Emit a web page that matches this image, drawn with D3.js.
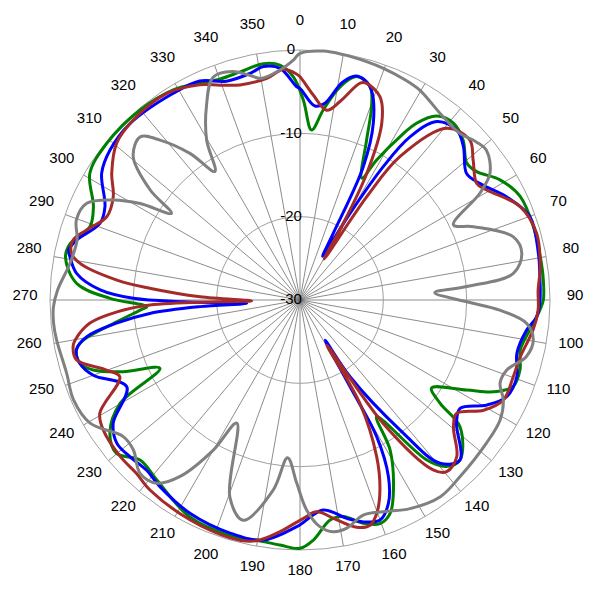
<!DOCTYPE html>
<html><head><meta charset="utf-8">
<script src="https://cdn.jsdelivr.net/npm/d3@7"></script>
<style>body{margin:0;background:#fff}svg{display:block}</style>
</head><body><svg id="c" width="600" height="600"></svg>
<script>
// Tick labels
const angleTicks = d3.range(0, 360, 10);
const ringTicks = [-30, -20, -10, 0];

// Series: [angle in degrees, level in dB]
const green = [[0.95,-6.0],[3.9,-9.55],[7,-7.0],[10.6,-4.0],[14.2,-2.35],[18.2,-3.05],[20.3,-5.25],[22.6,-9.2],[26.9,-13.6],[28.7,-10.85],[31.5,-7.0],[33.4,-4.6],[36.6,-2.5],[41,-1.9],[45.6,-2.6],[50.6,-4.1],[54,-3.8],[59,-2.0],[64.8,-0.8],[72.6,-0.65],[79.8,-0.7],[85.3,-0.7],[90,-0.8],[92.4,-1.2],[97.4,-2.2],[102.8,-2.9],[107.6,-2.3],[112.1,-2.4],[115.4,-4.3],[118.4,-7.3],[123.8,-11.0],[126.4,-9.1],[128.4,-5.5],[135,-2.85],[138.7,-3.4],[141.6,-5.5],[146.7,-13.25],[149,-9.0],[153.8,-4.6],[157.1,-2.2],[160.3,-1.5],[164.2,-2.15],[168.7,-3.5],[172.2,-3.35],[176.8,-1.15],[180,-0.2],[184.7,-0.5],[190.2,-0.7],[196.5,-0.5],[207,-0.8],[218.5,-2.4],[225,-2.85],[230.1,-1.3],[235,-2.15],[240.1,-5.1],[244,-11.3],[247.9,-7.1],[251.3,-3.8],[254,-2.5],[257.4,-2.5],[259.5,-3.55],[263.2,-7.85],[266.4,-10.8],[267.5,-11.6],[270.5,-7.2],[274.3,-3.1],[280.3,-1.4],[283.8,-1.6],[289.2,-3.3],[294.3,-2.8],[301.1,-0.55],[309,-0.15],[319.9,-0.2],[328.9,-0.55],[335.2,-1.3],[340,-1.8],[345.3,-1.7],[351.2,-1.3],[355.1,-1.7],[358.3,-3.2]];

const blue = [[0,-4.6],[4.4,-6.65],[7.2,-6.2],[11,-3.4],[14,-2.3],[16.5,-2.5],[18.8,-3.4],[22.5,-7.0],[25.4,-12.3],[26.5,-21],[27.3,-24.1],[30,-18],[32,-11.1],[34,-6.4],[37.5,-3.0],[42.7,-2.25],[46.8,-3.1],[52.8,-4.9],[57,-4.3],[63.4,-2.3],[70.1,-0.65],[78.9,-0.85],[85.2,-1.1],[90,-1.2],[94,-1.5],[97.5,-2.55],[103.8,-3.2],[109.5,-2.4],[115,-2.6],[119.4,-4.3],[124.1,-6.8],[128.2,-6.1],[135,-2.85],[139.4,-4.2],[142.4,-10.3],[146.9,-19.0],[148,-24.3],[150,-18],[150.7,-11.2],[153.4,-6.3],[156.5,-3.4],[160,-1.9],[164,-2.3],[167.9,-3.2],[173.7,-4.65],[180.8,-2.8],[188.7,-0.85],[196.7,-0.8],[207.3,-1.2],[216.9,-2.0],[222,-2.5],[227.3,-2.25],[232,-2.1],[236.6,-3.15],[243.4,-6.75],[250,-3.6],[254,-2.5],[257.4,-2.5],[260.2,-4.0],[262.8,-7.8],[264.9,-11.9],[266.2,-18],[266.5,-23.6],[269.2,-16],[270.6,-10],[272.9,-6.0],[276.8,-3.0],[280.7,-1.9],[282.2,-1.6],[285,-2.25],[291,-4.3],[295.6,-4.05],[302.6,-1.75],[308.3,-0.95],[316.1,-0.6],[328.5,-0.9],[335.4,-1.1],[341.4,-2.3],[347.6,-2.15],[351.1,-1.65],[355.1,-2.1],[359.1,-4.4]];

const brown = [[0,-3.2],[3.7,-5.35],[8,-7.0],[11.4,-5.7],[15.5,-3.0],[17.1,-2.8],[21.5,-3.8],[24.8,-6.6],[27.8,-12.8],[29.6,-20],[30.5,-24.3],[32.9,-15.2],[34.9,-9.0],[40.5,-2.9],[46.7,-2.0],[51.1,-3.3],[56.6,-4.6],[59.5,-4.0],[67,-1.3],[74.3,-0.5],[82.1,-0.9],[87.6,-1.4],[92.4,-1.4],[97.3,-1.8],[104.5,-2.7],[109.8,-2.8],[116.2,-2.8],[121,-4.3],[125.9,-6.8],[129.6,-6.1],[135,-3.4],[139.5,-2.9],[141.9,-4.1],[146,-12.1],[149.3,-23.7],[149.9,-15.7],[153.9,-9.1],[157.2,-5.25],[160.2,-2.8],[162.7,-1.7],[166,-1.9],[170.5,-3.25],[175.5,-4.5],[179.1,-3.8],[184.9,-2.1],[189.5,-0.8],[192,-0.4],[196.4,-0.25],[206.6,-0.5],[218.3,-0.95],[223.3,-1.4],[228.9,-1.4],[236.5,-1.7],[240.5,-2.4],[246.9,-6.5],[250.1,-5.3],[255,-2.25],[258.4,-2.2],[259.9,-2.6],[263.7,-4.6],[266.3,-8],[268.1,-12],[268.8,-20],[269,-24.2],[271.9,-18],[274.5,-11.9],[276.2,-7.9],[279.5,-3.2],[281.6,-2.0],[284.8,-1.85],[288.2,-3.05],[293.3,-4.75],[298.9,-4.4],[304,-2.75],[310.5,-1.05],[317.2,-0.55],[327.2,-0.5],[335,-1.5],[339.6,-2.5],[344.4,-3.2],[351.5,-3.1],[355.9,-2.25],[359.2,-2.9]];

const gray = [[0,-0.4],[5.3,0],[10,-0.1],[15.6,-0.3],[19.8,-0.45],[25,-0.7],[29.7,-1.0],[36.9,-2.0],[43.8,-2.3],[48,-1.6],[51.2,-1.3],[56.3,-2.6],[59.3,-4.9],[63.9,-9.5],[67.1,-7.4],[73.5,-3.3],[78.1,-2.8],[82.9,-4.2],[85.4,-9.9],[86.9,-13.8],[90.6,-10.0],[92.9,-6.0],[95.9,-2.65],[99.7,-1.6],[104,-2.0],[108.7,-3.8],[112.6,-4.0],[116.2,-2.8],[121,-2.0],[127.5,-1.8],[137.8,-1.4],[144.6,-1.0],[152.2,-1.7],[158.5,-2.7],[163.6,-3.1],[168.4,-2.05],[171.8,-1.9],[175,-2.7],[178.2,-4.8],[181,-8.0],[184.5,-11.0],[188,-7.0],[194.5,-2.7],[199.6,-4.9],[207.2,-13.4],[210,-9.2],[214.2,-4.4],[218,-2.1],[222.7,-1.7],[228,-3.1],[232.3,-3.2],[239.6,-0.8],[246.2,-0.3],[252.6,-0.65],[260.7,-0.4],[264.6,-0.3],[268.4,-0.4],[272.4,-0.9],[279.1,-2.05],[285,-2.3],[289.7,-1.5],[294.4,-1.9],[298.2,-4.6],[301.1,-7.6],[304,-11.4],[306.3,-7.7],[310.7,-3.6],[315.6,-2.6],[318.8,-4.5],[323.1,-8.0],[326.5,-11.5],[329.7,-7.8],[334.2,-4.2],[338.7,-1.3],[343.5,-1.4],[347.5,-2.4],[350,-3.0],[355,-2.3],[358.4,-1.2]];

const seriesList = [
  {data: green, color: "#008000"},
  {data: blue, color: "#0000ff"},
  {data: brown, color: "#a52a2a"},
  {data: gray, color: "#808080"}
];

const svg = d3.select("#c");
const g = svg.append("g").attr("transform", "translate(300,300)");
const r = d3.scaleLinear().domain([-30, 0]).range([0, 250]);
const rad = d => d * Math.PI / 180;
const font = "'Liberation Sans', Arial, sans-serif";

// spokes
g.selectAll("line.spoke").data(angleTicks).join("line")
  .attr("class", "spoke")
  .attr("x1", 0).attr("y1", 0)
  .attr("x2", d => r(0) * Math.sin(rad(d)))
  .attr("y2", d => -r(0) * Math.cos(rad(d)))
  .attr("stroke", "#6e6e6e").attr("stroke-width", 0.8);

// rings
g.selectAll("circle.ring").data(ringTicks.filter(d => d > -30)).join("circle")
  .attr("class", "ring")
  .attr("r", d => r(d))
  .attr("fill", "none").attr("stroke", "#a0a0a0").attr("stroke-width", 1);

// series
const line = d3.lineRadial()
  .angle(d => rad(d[0]))
  .radius(d => r(d[1]))
  .curve(d3.curveCatmullRomClosed.alpha(0.5));

g.selectAll("path.series").data(seriesList).join("path")
  .attr("class", "series")
  .attr("d", d => line(d.data))
  .attr("fill", "none")
  .attr("stroke", d => d.color)
  .attr("stroke-width", 3)
  .attr("stroke-linejoin", "round");

// ring labels
g.selectAll("text.rl").data(ringTicks).join("text")
  .attr("class", "rl")
  .attr("x", -9).attr("y", d => -r(d) - 1)
  .attr("dy", "0.35em")
  .attr("text-anchor", "middle")
  .attr("font-family", font).attr("font-size", 15).attr("fill", "#000")
  .text(d => String(d));

// angle labels
g.selectAll("text.al").data(angleTicks).join("text")
  .attr("class", "al")
  .attr("x", d => 275 * Math.sin(rad(d)))
  .attr("y", d => -275 * Math.cos(rad(d)) - 5)
  .attr("dy", "0.35em")
  .attr("text-anchor", "middle")
  .attr("font-family", font).attr("font-size", 15).attr("fill", "#000")
  .text(d => String(d));
</script>
</body></html>
